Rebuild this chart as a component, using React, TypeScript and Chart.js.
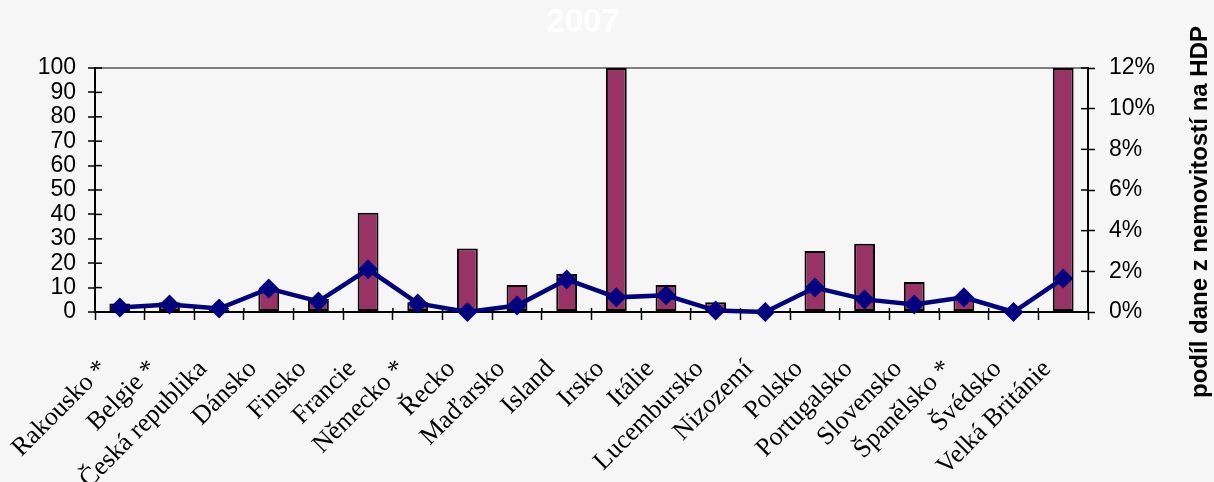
import React, { useEffect, useRef } from "react";
import { Chart, registerables } from "chart.js";

Chart.register(...registerables);

const categories = [
  "Rakousko *", "Belgie *", "Česká republika", "Dánsko", "Finsko", "Francie",
  "Německo *", "Řecko", "Maďarsko", "Island", "Irsko", "Itálie", "Lucembursko",
  "Nizozemí", "Polsko", "Portugalsko", "Slovensko", "Španělsko *", "Švédsko",
  "Velká Británie",
];
const barValues = [3.5, 4, 1, 9.5, 5.3, 40.7, 4, 26, 11.1, 15.6, 100, 11.1, 4, 0, 25, 28, 12.3, 6.2, 0, 100];
const lineValues = [0.22, 0.37, 0.17, 1.15, 0.52, 2.1, 0.42, 0, 0.32, 1.6, 0.72, 0.82, 0.07, 0, 1.2, 0.62, 0.37, 0.72, 0, 1.65];
const leftTicksMax = 100;
const rightTicksMax = 12;
const titleText = "2007";
const rightTitle = "podíl dane z nemovitostí na HDP";

const BG = "#f6f6f6";

const customPlugin = {
  id: "custom",
  beforeDraw(chart: any) {
    const ctx = chart.ctx;
    ctx.save();
    ctx.fillStyle = BG;
    ctx.fillRect(0, 0, chart.width, chart.height);
    ctx.restore();
  },
  afterDraw(chart: any) {
    const ctx = chart.ctx;
    const x = chart.scales.x;
    const y = chart.scales.y;
    const y1 = chart.scales.y1;
    ctx.save();
    ctx.strokeStyle = "#000";
    ctx.lineWidth = 1.5;
    y.ticks.forEach((t: any) => {
      const py = y.getPixelForValue(t.value);
      ctx.beginPath();
      ctx.moveTo(y.right, py);
      ctx.lineTo(y.right + 7, py);
      ctx.stroke();
    });
    y1.ticks.forEach((t: any) => {
      const py = y1.getPixelForValue(t.value);
      ctx.beginPath();
      ctx.moveTo(y1.left - 7, py);
      ctx.lineTo(y1.left, py);
      ctx.stroke();
    });
    const n = categories.length;
    for (let i = 0; i <= n; i++) {
      const px = x.left + ((x.right - x.left) * i) / n;
      ctx.beginPath();
      ctx.moveTo(px, x.top - 4);
      ctx.lineTo(px, x.top);
      ctx.stroke();
    }
    ctx.fillStyle = "#ffffff";
    ctx.font = "bold 33px 'Liberation Sans', Arial, sans-serif";
    ctx.textAlign = "center";
    ctx.textBaseline = "middle";
    ctx.fillText(titleText, 583, 23);
    ctx.fillStyle = "#000";
    ctx.font = "bold 24px 'Liberation Sans', Arial, sans-serif";
    ctx.translate(1200, 212);
    ctx.rotate(-Math.PI / 2);
    ctx.textAlign = "center";
    ctx.textBaseline = "middle";
    ctx.fillText(rightTitle, 0, 0);
    ctx.restore();
  },
};

export default function App() {
  const ref = useRef<HTMLCanvasElement | null>(null);
  useEffect(() => {
    document.body.style.margin = "0";
    document.body.style.background = BG;
    const canvas = ref.current!;
    const chart = new Chart(canvas, {
      type: "bar",
      data: {
        labels: categories,
        datasets: [
          {
            type: "line",
            data: lineValues,
            yAxisID: "y1",
            borderColor: "#000080",
            backgroundColor: "#000080",
            borderWidth: 4.5,
            pointStyle: "rectRot",
            pointRadius: 10,
            pointBorderWidth: 0,
            tension: 0,
            order: 0,
            clip: false as any,
          },
          {
            type: "bar",
            data: barValues,
            yAxisID: "y",
            backgroundColor: "#993366",
            borderColor: "#000",
            borderWidth: 2,
            borderSkipped: false,
            barPercentage: 0.42,
            categoryPercentage: 1,
            order: 1,
          },
        ],
      },
      options: {
        responsive: false,
        animation: false,
        devicePixelRatio: 1,
        layout: { padding: { top: 68, left: 0, right: 0, bottom: 0 } },
        plugins: {
          legend: { display: false },
          title: { display: false },
          tooltip: { enabled: false },
        },
        scales: {
          x: {
            grid: {
              display: true,
              drawOnChartArea: false,
              tickLength: 8,
              tickColor: "#000",
              tickWidth: 1.5,
              offset: true,
            },
            border: { color: "#000", width: 2 },
            ticks: {
              autoSkip: false,
              maxRotation: 45,
              minRotation: 45,
              color: "#000",
              font: { family: "'Liberation Serif', 'Times New Roman', serif", size: 26 },
              padding: 34,
              labelOffset: -16,
            },
            afterFit(scale: any) {
              scale.height = 170;
              scale.paddingLeft = 0;
              scale.paddingRight = 0;
            },
          },
          y: {
            position: "left",
            min: 0,
            max: leftTicksMax,
            grid: {
              color: (c: any) => (c.tick && c.tick.value === leftTicksMax ? "#808080" : "rgba(0,0,0,0)"),
              lineWidth: 2,
              tickLength: 7,
              tickColor: "#000",
              tickWidth: 1.5,
            },
            border: { color: "#000", width: 2 },
            ticks: {
              stepSize: 10,
              autoSkip: false,
              color: "#000",
              padding: 12,
              font: { family: "'Liberation Sans', Arial, sans-serif", size: 23 },
            },
            afterFit(scale: any) {
              scale.width = 95;
            },
          },
          y1: {
            position: "right",
            min: 0,
            max: rightTicksMax,
            grid: {
              drawOnChartArea: false,
              tickLength: 7,
              tickColor: "#000",
              tickWidth: 1.5,
            },
            border: { color: "#000", width: 2 },
            ticks: {
              stepSize: 2,
              autoSkip: false,
              color: "#000",
              padding: 14,
              font: { family: "'Liberation Sans', Arial, sans-serif", size: 23 },
              callback: (v: any) => v + "%",
            },
            afterFit(scale: any) {
              scale.width = 126;
            },
          },
        },
      },
      plugins: [customPlugin],
    });
    return () => chart.destroy();
  }, []);
  return (
    <div style={{ width: 1214, height: 482, background: BG }}>
      <canvas ref={ref} width={1214} height={482} style={{ display: "block" }} />
    </div>
  );
}
